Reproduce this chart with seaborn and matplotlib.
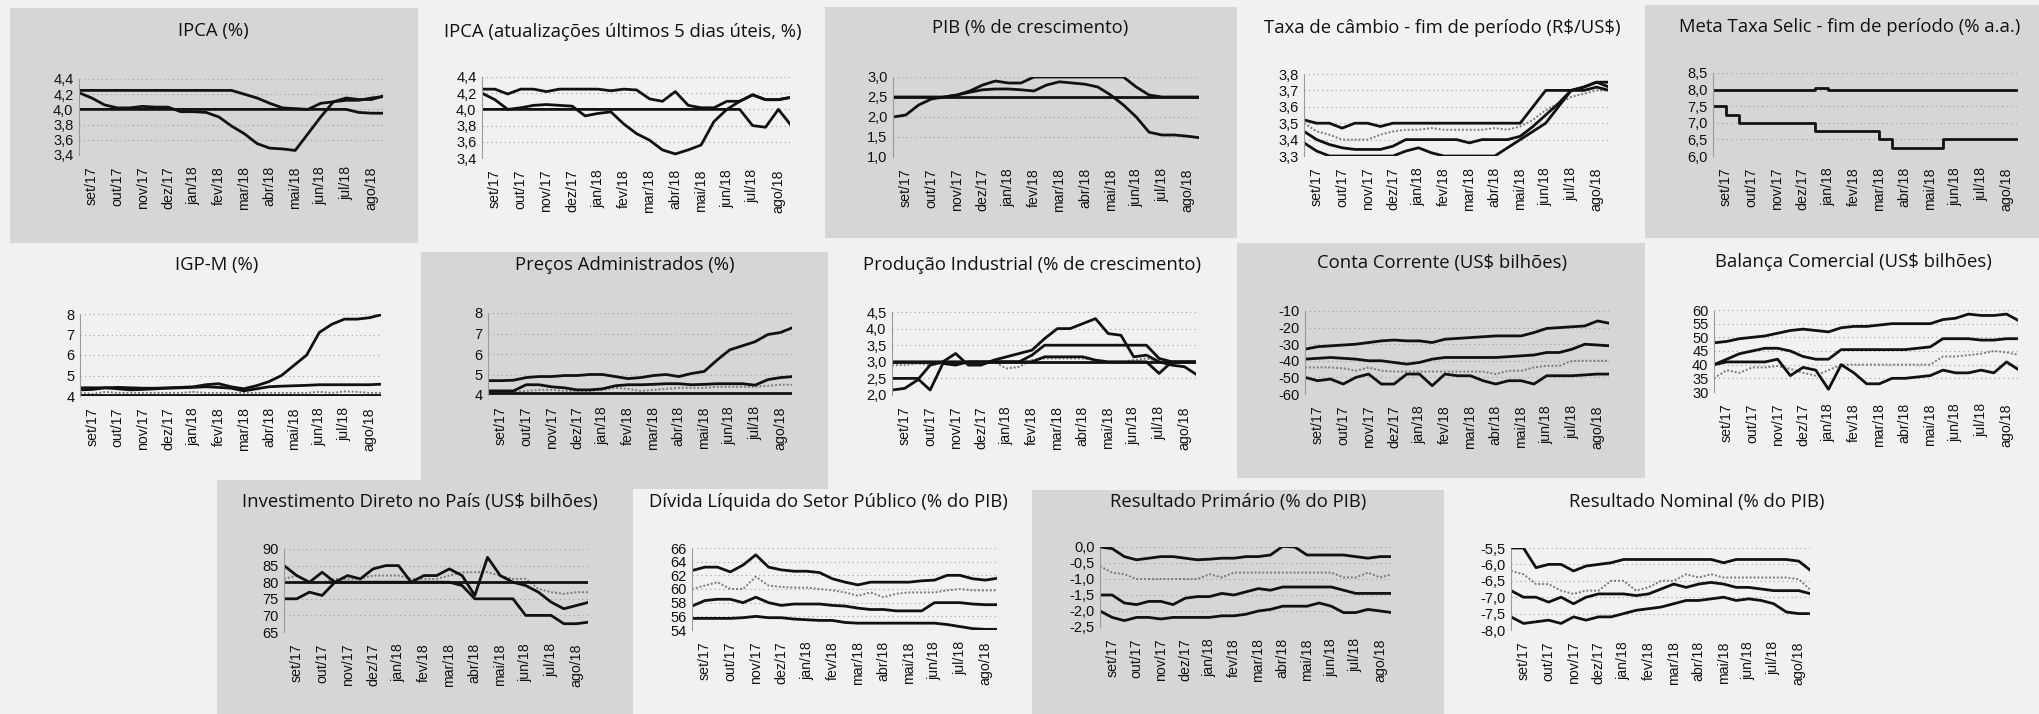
import numpy as np
import matplotlib
matplotlib.use("Agg")
import matplotlib.pyplot as plt
import seaborn as sns
from matplotlib.patches import Rectangle

# ---------------- data ----------------
months = ['set/17', 'out/17', 'nov/17', 'dez/17', 'jan/18', 'fev/18',
          'mar/18', 'abr/18', 'mai/18', 'jun/18', 'jul/18', 'ago/18']
# half-month observation positions (month index, set/17 = 0)
periods = np.arange(25) * 0.5 - 0.5

ipca_max = [4.25,4.25,4.25,4.25,4.25,4.25,4.25,4.25,4.25,4.25,4.25,4.25,4.25,4.20,4.15,4.08,4.02,4.01,4.00,4.08,4.10,4.12,4.12,4.15,4.17]
ipca_min = [4.22,4.15,4.06,4.02,4.02,4.04,4.03,4.03,3.97,3.97,3.96,3.90,3.78,3.68,3.55,3.49,3.48,3.46,3.68,3.90,4.10,4.15,4.13,4.13,4.18]
ipca_flat = [4.00,4.00,4.00,4.00,4.00,4.00,4.00,4.00,4.00,4.00,4.00,4.00,4.00,4.00,4.00,4.00,4.00,4.00,4.00,4.00,4.00,4.00,3.96,3.95,3.95]

ipca5_max = [4.25,4.25,4.19,4.25,4.25,4.22,4.25,4.25,4.25,4.25,4.23,4.25,4.24,4.13,4.10,4.22,4.05,4.02,4.02,4.10,4.10,4.18,4.12,4.12,4.15]
ipca5_min = [4.20,4.12,4.00,4.02,4.05,4.06,4.05,4.04,3.92,3.95,3.97,3.82,3.70,3.62,3.50,3.45,3.50,3.56,3.85,4.00,4.10,4.18,4.12,4.12,4.15]
ipca5_flat = [4.00,4.00,4.00,4.00,4.00,4.00,4.00,4.00,4.00,4.00,4.00,4.00,4.00,4.00,4.00,4.00,4.00,4.00,4.00,4.00,4.00,3.80,3.78,4.00,3.80]

pib_max = [2.50,2.50,2.50,2.50,2.50,2.55,2.65,2.80,2.90,2.85,2.85,3.00,3.00,3.00,3.00,3.00,3.00,3.00,3.00,2.75,2.55,2.50,2.50,2.50,2.50]
pib_mid = [2.00,2.05,2.30,2.45,2.50,2.55,2.62,2.68,2.70,2.70,2.68,2.65,2.80,2.88,2.85,2.82,2.75,2.55,2.30,2.00,1.62,1.55,1.55,1.52,1.48]
pib_flat = [2.50,2.50,2.50,2.50,2.50,2.50,2.50,2.50,2.50,2.50,2.50,2.50,2.50,2.50,2.50,2.50,2.50,2.50,2.50,2.50,2.50,2.50,2.50,2.50,2.50]

cambio_max = [3.52,3.50,3.50,3.47,3.50,3.50,3.48,3.50,3.50,3.50,3.50,3.50,3.50,3.50,3.50,3.50,3.50,3.50,3.60,3.70,3.70,3.70,3.72,3.75,3.75]
cambio_med = [3.50,3.45,3.43,3.40,3.40,3.40,3.43,3.45,3.46,3.46,3.47,3.46,3.46,3.46,3.46,3.47,3.46,3.48,3.52,3.58,3.62,3.66,3.68,3.70,3.70]
cambio_mid = [3.45,3.40,3.37,3.35,3.34,3.34,3.34,3.36,3.40,3.40,3.40,3.40,3.40,3.38,3.40,3.40,3.40,3.42,3.48,3.55,3.62,3.70,3.72,3.75,3.72]
cambio_min = [3.38,3.33,3.30,3.30,3.30,3.30,3.30,3.30,3.33,3.35,3.32,3.30,3.30,3.30,3.30,3.30,3.35,3.40,3.45,3.50,3.60,3.70,3.70,3.72,3.70]

selic_max = [8.00,8.00,8.00,8.00,8.00,8.00,8.00,8.00,8.05,8.00,8.00,8.00,8.00,8.00,8.00,8.00,8.00,8.00,8.00,8.00,8.00,8.00,8.00,8.00,8.00]
selic_min = [7.50,7.25,7.00,7.00,7.00,7.00,7.00,7.00,6.75,6.75,6.75,6.75,6.75,6.50,6.25,6.25,6.25,6.25,6.50,6.50,6.50,6.50,6.50,6.50,6.50]

igpm_max = [4.40,4.40,4.40,4.42,4.40,4.38,4.38,4.40,4.42,4.45,4.55,4.60,4.45,4.35,4.50,4.70,5.00,5.50,6.00,7.10,7.50,7.75,7.75,7.82,7.98]
igpm_mid = [4.30,4.32,4.40,4.35,4.30,4.32,4.35,4.38,4.40,4.42,4.45,4.42,4.38,4.25,4.35,4.45,4.48,4.50,4.52,4.55,4.55,4.55,4.55,4.55,4.58]
igpm_med = [4.15,4.10,4.20,4.15,4.15,4.15,4.15,4.15,4.15,4.20,4.15,4.15,4.15,4.15,4.15,4.15,4.15,4.15,4.15,4.20,4.15,4.22,4.20,4.15,4.15]
igpm_min = [4.05,4.05,4.05,4.05,4.05,4.05,4.05,4.05,4.05,4.05,4.05,4.05,4.05,4.05,4.05,4.05,4.05,4.05,4.05,4.05,4.05,4.05,4.05,4.05,4.05]

adm_max = [4.70,4.70,4.72,4.85,4.90,4.90,4.95,4.95,5.00,5.00,4.90,4.80,4.85,4.95,5.00,4.90,5.05,5.15,5.70,6.20,6.40,6.60,6.95,7.05,7.30]
adm_mid = [4.20,4.20,4.20,4.50,4.50,4.40,4.35,4.25,4.25,4.30,4.45,4.50,4.50,4.52,4.55,4.55,4.50,4.52,4.55,4.55,4.55,4.48,4.75,4.85,4.90]
adm_med = [4.15,4.15,4.15,4.20,4.25,4.25,4.20,4.20,4.20,4.25,4.35,4.30,4.20,4.25,4.30,4.35,4.35,4.35,4.40,4.40,4.40,4.40,4.45,4.50,4.50]
adm_min = [4.10,4.10,4.10,4.10,4.10,4.10,4.10,4.10,4.10,4.10,4.10,4.10,4.10,4.10,4.10,4.10,4.10,4.10,4.10,4.10,4.10,4.10,4.10,4.10,4.10]

prod_max = [2.15,2.20,2.45,2.90,3.00,3.25,2.90,2.90,3.05,3.15,3.25,3.35,3.70,4.00,4.00,4.15,4.30,3.85,3.80,3.15,3.20,3.00,2.90,2.85,2.60]
prod_hi = [3.00,3.00,3.00,3.00,3.00,3.00,3.00,3.00,3.00,3.00,3.00,3.20,3.50,3.50,3.50,3.50,3.50,3.50,3.50,3.50,3.50,3.10,3.00,3.00,3.00]
prod_lo = [2.50,2.50,2.50,2.15,2.95,2.90,3.00,3.00,3.00,3.00,3.00,3.00,3.15,3.15,3.15,3.15,3.05,3.00,3.00,3.00,3.00,2.65,3.00,3.00,3.00]
prod_med = [2.90,2.90,2.95,2.90,2.95,3.00,2.95,2.90,3.00,2.80,2.85,3.05,3.10,3.10,3.10,3.10,3.05,3.00,3.00,3.05,3.10,3.00,3.00,3.00,3.00]
prod_flat = [3.00,3.00,3.00,3.00,3.00,3.00,3.00,3.00,3.00,3.00,3.00,3.00,3.00,3.00,3.00,3.00,3.00,3.00,3.00,3.00,3.00,3.00,3.00,3.00,3.00]

cc_max = [-33,-31.5,-31,-30.5,-30,-29,-28,-27.5,-28,-28,-29,-27,-26.5,-26,-25.5,-25,-25,-25,-23,-20.5,-20,-19.5,-19,-16,-17.5]
cc_mid = [-39,-38.5,-38,-38.5,-39,-40,-40,-41,-42,-41,-39,-38,-38,-38,-38,-38,-37.5,-37,-36.5,-35,-35,-33,-30,-30.5,-31]
cc_med = [-44,-44,-44,-44.5,-46,-44,-46,-46.5,-46.5,-46.5,-46.5,-46.5,-46.5,-46.5,-46.5,-48,-46,-46,-44,-43,-43,-40,-40,-40,-40]
cc_min = [-50,-52,-51,-54,-50,-48,-54,-54,-48,-48,-55,-48,-49,-49,-52,-54,-52,-52,-54,-49,-49,-49,-48.5,-48,-48]

bc_max = [48,48.5,49.5,50,50.5,51.5,52.5,53,52.5,52,53.5,54,54,54.5,55,55,55,55,56.5,57,58.5,58,58,58.5,56]
bc_mid = [40,42,44,45,46,46,45,43,42,42,45.5,45.5,45.5,45.5,45.5,45.5,46,46.5,49.5,49.5,49.5,49,49,49.5,49.5]
bc_med = [35,38,37,39,39,39.5,38.5,37,36,38,40,40,40,40,40,40,40,40,43,43,43.5,44,45,44.5,43.5]
bc_min = [40,41,41,41,41,42,36,39,38,31,40,37,33,33,35,35,35.5,36,38,37,37,38,37,41,38]

idp_max = [85,82,80,83,80,82,81,84,85,85,80,82,82,84,82,76,87.5,82,80,79,77,74,72,73,74]
idp_min = [75,75,77,76,80,80,80,80,80,80,80,80,80,80,79,75,75,75,75,70,70,70,67.5,67.5,68]
idp_med = [81,82,80,80,81,81,81,82,82,82,81,81,81,82,83,83,83,82,81,81,78,77,76.5,77,77]
idp_flat = [80,80,80,80,80,80,80,80,80,80,80,80,80,80,80,80,80,80,80,80,80,80,80,80,80]

dlsp_max = [62.7,63.2,63.2,62.5,63.5,65,63.2,62.8,62.6,62.6,62.4,61.5,61,60.6,61,61,61,61,61.2,61.3,62,62,61.5,61.3,61.6]
dlsp_med = [60,60.5,61,60,60,61.8,60.5,60.3,60.2,60.2,60,59.8,59.5,59,59.5,58.8,59.3,59.5,59.5,59.5,59.8,60,59.8,59.8,59.8]
dlsp_mid = [57.5,58.3,58.5,58.5,58,58.8,58,57.6,57.8,57.8,57.8,57.6,57.5,57.2,57,57,56.8,56.8,56.8,58,58,58,57.8,57.7,57.7]
dlsp_min = [55.7,55.7,55.7,55.7,55.8,56,55.8,55.8,55.6,55.5,55.4,55.4,55.1,55,55,55,55,55,55,55,54.8,54.5,54.2,54.1,54.1]

prim_max = [0.0,-0.05,-0.3,-0.4,-0.35,-0.3,-0.3,-0.35,-0.4,-0.38,-0.35,-0.35,-0.3,-0.3,-0.25,0.02,0.0,-0.25,-0.25,-0.25,-0.25,-0.3,-0.35,-0.3,-0.3]
prim_med = [-0.6,-0.8,-0.85,-1.0,-1.0,-1.0,-1.0,-1.0,-1.0,-0.85,-0.95,-0.8,-0.8,-0.8,-0.8,-0.8,-0.8,-0.8,-0.8,-0.8,-0.95,-0.95,-0.8,-0.95,-0.85]
prim_mid = [-1.5,-1.5,-1.75,-1.8,-1.7,-1.7,-1.8,-1.6,-1.55,-1.55,-1.45,-1.5,-1.4,-1.3,-1.35,-1.25,-1.25,-1.25,-1.25,-1.25,-1.35,-1.45,-1.45,-1.45,-1.45]
prim_min = [-2.0,-2.2,-2.3,-2.2,-2.2,-2.25,-2.2,-2.2,-2.2,-2.2,-2.15,-2.15,-2.1,-2.0,-1.95,-1.85,-1.85,-1.85,-1.75,-1.85,-2.05,-2.05,-1.95,-2.0,-2.05]

nom_max = [-5.5,-5.5,-6.1,-6.0,-6.0,-6.2,-6.05,-6.0,-5.95,-5.85,-5.85,-5.85,-5.85,-5.85,-5.85,-5.85,-5.85,-5.95,-5.85,-5.85,-5.85,-5.85,-5.85,-5.9,-6.2]
nom_med = [-6.2,-6.3,-6.6,-6.6,-6.8,-6.9,-6.8,-6.8,-6.5,-6.5,-6.8,-6.7,-6.5,-6.5,-6.3,-6.4,-6.3,-6.4,-6.4,-6.4,-6.4,-6.4,-6.4,-6.45,-6.8]
nom_mid = [-6.8,-7.0,-7.0,-7.15,-7.0,-7.2,-7.0,-6.9,-6.9,-6.9,-6.95,-6.9,-6.75,-6.6,-6.7,-6.6,-6.55,-6.6,-6.7,-6.7,-6.75,-6.8,-6.8,-6.8,-6.9]
nom_min = [-7.6,-7.8,-7.75,-7.7,-7.8,-7.6,-7.7,-7.6,-7.6,-7.5,-7.4,-7.35,-7.3,-7.2,-7.1,-7.1,-7.05,-7.0,-7.1,-7.05,-7.1,-7.2,-7.45,-7.5,-7.5]

# ---------------- figure ----------------
sns.set_theme(style="white")
plt.rcParams['font.family'] = ['Liberation Sans', 'DejaVu Sans']

W, H = 2039, 714
fig = plt.figure(figsize=(W / 100, H / 100), dpi=100, facecolor='#f1f1f1')

PANEL_GRAY = '#d6d6d6'
gray_boxes = [(10, 8, 418, 243), (825, 7, 1237, 238), (1645, 5, 2039, 238),
              (421, 252, 828, 489), (1237, 243, 1645, 478),
              (217, 480, 633, 714), (1032, 490, 1444, 714)]
for (x0, y0, x1, y1) in gray_boxes:
    fig.patches.append(Rectangle((x0 / W, 1 - y1 / H), (x1 - x0) / W, (y1 - y0) / H,
                                 transform=fig.transFigure, facecolor=PANEL_GRAY,
                                 edgecolor='none', zorder=-10))


def fmt(v, dec):
    return (f"{v:.{dec}f}").replace('.', ',')


def panel(title, box, tpos, ylim, yticks, dec, series, step=False):
    l, r, t, b = box
    ax = fig.add_axes([l / W, 1 - b / H, (r - l) / W, (b - t) / H])
    ax.set_zorder(2)
    ax.set_facecolor('none')
    for vals, kind in series:
        if kind == 'k':
            sns.lineplot(x=periods, y=vals, ax=ax, color='#111111', lw=2.0,
                         estimator=None, drawstyle='steps-post' if step else 'default')
        else:
            sns.lineplot(x=periods, y=vals, ax=ax, color='#7a7a7a', lw=1.4,
                         estimator=None, linestyle=(0, (1, 1)))
    ax.set_xlim(-0.5, 11.45)
    ax.set_ylim(*ylim)
    ax.set_yticks(yticks)
    ax.set_yticklabels([fmt(v, dec) for v in yticks], fontsize=10.5, color='#111111')
    ax.set_xticks(range(12))
    ax.set_xticklabels(months, rotation=90, fontsize=10.2, color='#111111')
    ax.tick_params(axis='x', length=0, pad=8)
    ax.tick_params(axis='y', length=0, pad=4)
    ax.set_xlabel('')
    ax.set_ylabel('')
    for s in ['top', 'right', 'bottom']:
        ax.spines[s].set_visible(False)
    ax.spines['left'].set_color('#9a9a9a')
    ax.spines['left'].set_linewidth(0.8)
    ax.spines['left'].set_linestyle((0, (1, 1)))
    for yv in yticks:
        ax.axhline(yv, color='#a0a0a0', lw=0.8, ls=(0, (1, 3)), zorder=0)
    fig.text(tpos[0] / W, 1 - tpos[1] / H, title, ha='center', va='center',
             fontsize=13.3, family=['Open Sans', 'DejaVu Sans'], color='#111111',
             parse_math=False)
    return ax


panel('IPCA (%)', (79, 383, 79, 155), (213, 31), (3.4, 4.4),
      [3.4, 3.6, 3.8, 4.0, 4.2, 4.4], 1,
      [(ipca_max, 'k'), (ipca_min, 'k'), (ipca_flat, 'k')])
panel('IPCA (atualizações últimos 5 dias úteis, %)', (482, 790, 77, 158), (623, 32),
      (3.4, 4.4), [3.4, 3.6, 3.8, 4.0, 4.2, 4.4], 1,
      [(ipca5_max, 'k'), (ipca5_min, 'k'), (ipca5_flat, 'k')])
panel('PIB (% de crescimento)', (893, 1199, 77, 157), (1030, 28), (1.0, 3.0),
      [1.0, 1.5, 2.0, 2.5, 3.0], 1,
      [(pib_flat, 'k'), (pib_max, 'k'), (pib_mid, 'k')])
panel('Taxa de câmbio - fim de período (R$/US$)', (1304, 1608, 74, 156), (1442, 28),
      (3.3, 3.8), [3.3, 3.4, 3.5, 3.6, 3.7, 3.8], 1,
      [(cambio_med, 'g'), (cambio_max, 'k'), (cambio_mid, 'k'), (cambio_min, 'k')])
panel('Meta Taxa Selic - fim de período (% a.a.)', (1713, 2018, 73, 156), (1850, 27),
      (6.0, 8.5), [6.0, 6.5, 7.0, 7.5, 8.0, 8.5], 1,
      [(selic_max, 'k'), (selic_min, 'k')], step=True)

panel('IGP-M (%)', (80, 381, 314, 396), (217, 265), (4, 8), [4, 5, 6, 7, 8], 0,
      [(igpm_med, 'g'), (igpm_min, 'k'), (igpm_mid, 'k'), (igpm_max, 'k')])
panel('Preços Administrados (%)', (488, 792, 313, 395), (625, 265), (4, 8),
      [4, 5, 6, 7, 8], 0,
      [(adm_med, 'g'), (adm_min, 'k'), (adm_mid, 'k'), (adm_max, 'k')])
panel('Produção Industrial (% de crescimento)', (892, 1196, 312, 395), (1032, 265),
      (2.0, 4.5), [2.0, 2.5, 3.0, 3.5, 4.0, 4.5], 1,
      [(prod_med, 'g'), (prod_flat, 'k'), (prod_lo, 'k'), (prod_hi, 'k'), (prod_max, 'k')])
panel('Conta Corrente (US$ bilhões)', (1305, 1609, 311, 394), (1442, 263), (-60, -10),
      [-60, -50, -40, -30, -20, -10], 0,
      [(cc_med, 'g'), (cc_max, 'k'), (cc_mid, 'k'), (cc_min, 'k')])
panel('Balança Comercial (US$ bilhões)', (1714, 2018, 310, 392), (1853, 262), (30, 60),
      [30, 35, 40, 45, 50, 55, 60], 0,
      [(bc_med, 'g'), (bc_max, 'k'), (bc_mid, 'k'), (bc_min, 'k')])

panel('Investimento Direto no País (US$ bilhões)', (284, 588, 549, 632), (420, 502),
      (65, 90), [65, 70, 75, 80, 85, 90], 0,
      [(idp_med, 'g'), (idp_flat, 'k'), (idp_min, 'k'), (idp_max, 'k')])
panel('Dívida Líquida do Setor Público (% do PIB)', (692, 997, 548, 630), (828, 502),
      (54, 66), [54, 56, 58, 60, 62, 64, 66], 0,
      [(dlsp_med, 'g'), (dlsp_max, 'k'), (dlsp_mid, 'k'), (dlsp_min, 'k')])
panel('Resultado Primário (% do PIB)', (1100, 1391, 547, 627), (1238, 502),
      (-2.5, 0.0), [-2.5, -2.0, -1.5, -1.0, -0.5, 0.0], 1,
      [(prim_med, 'g'), (prim_max, 'k'), (prim_mid, 'k'), (prim_min, 'k')])
panel('Resultado Nominal (% do PIB)', (1511, 1810, 548, 630), (1697, 502),
      (-8.0, -5.5), [-8.0, -7.5, -7.0, -6.5, -6.0, -5.5], 1,
      [(nom_med, 'g'), (nom_max, 'k'), (nom_mid, 'k'), (nom_min, 'k')])

fig.savefig('out.png', dpi=100, facecolor=fig.get_facecolor())
